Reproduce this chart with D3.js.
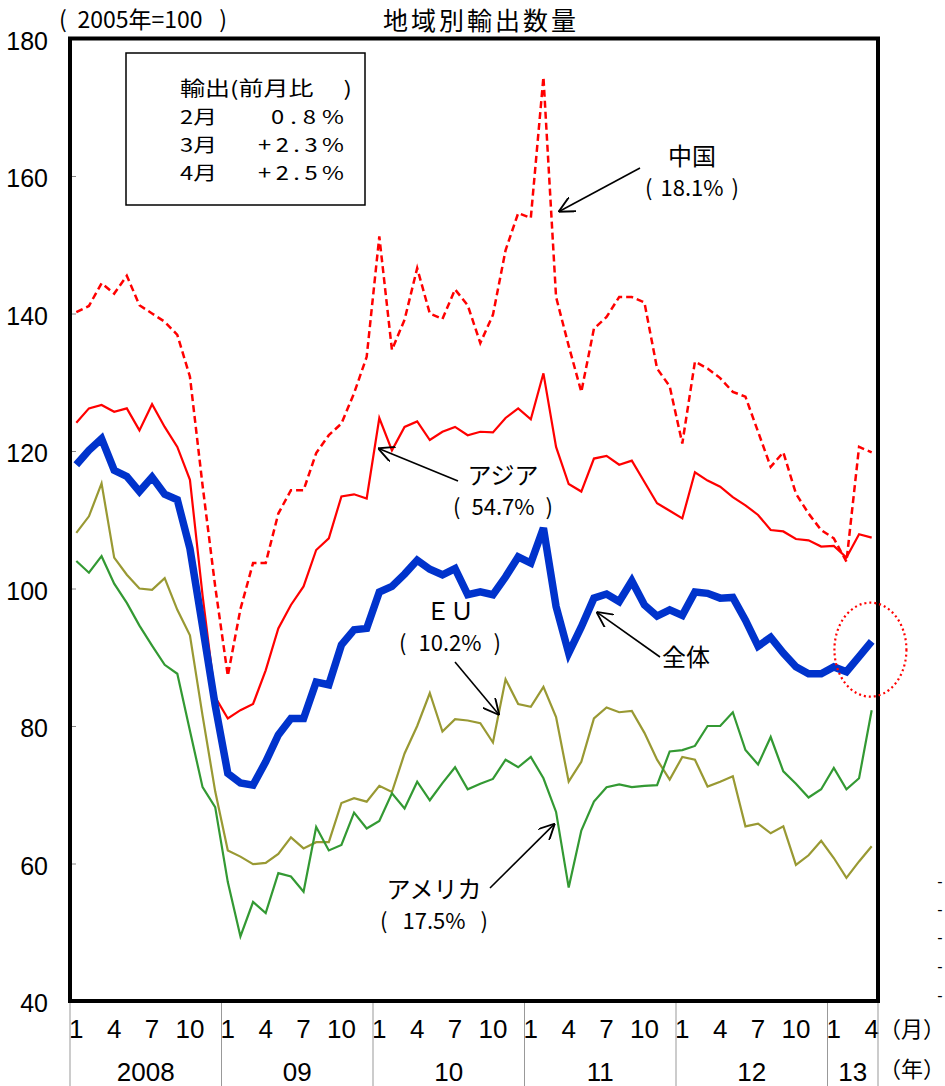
<!DOCTYPE html>
<html>
<head>
<meta charset="utf-8">
<script src="https://cdn.jsdelivr.net/npm/d3@7"></script>
<style>
  body { margin: 0; background: #fff; }
  svg text { font-family: 'Noto Sans CJK JP', sans-serif; fill: #000; }
  .num { font-family: 'Liberation Sans Narrow', 'Liberation Sans', Arial, sans-serif; }
</style>
</head>
<body>
<div id="chart"></div>
<script>
// Jan 2008 .. Apr 2013, index 2005 = 100
const years = ["2008", "09", "10", "11", "12", "13"];
const monthTicks = [1, 4, 7, 10];
const yTicks = [40, 60, 80, 100, 120, 140, 160, 180];

const total = [118.0,120.1,121.8,117.2,116.3,114.1,116.2,113.7,112.9,105.8,94.5,83.0,
  73.1,71.7,71.4,74.8,78.7,81.1,81.1,86.4,86.0,91.8,94.0,94.2,
  99.5,100.3,102.1,104.1,102.8,102.0,102.9,99.1,99.5,99.1,101.7,104.6,
  103.7,108.8,97.4,90.6,94.4,98.6,99.2,98.1,101.1,97.6,96.0,96.9,
  96.1,99.5,99.3,98.6,98.7,95.4,91.6,92.9,90.6,88.6,87.6,87.6,
  88.6,87.9,90.1,92.3];
const asia = [124.1,126.2,126.7,125.7,126.2,123.0,126.8,123.5,120.6,115.8,99.0,84.2,
  81.1,82.3,83.2,88.1,94.2,97.6,100.3,105.6,107.3,113.4,113.7,113.1,
  124.8,120.1,123.5,124.3,121.6,122.8,123.5,122.3,122.8,122.7,124.8,126.2,
  124.6,131.3,120.6,115.2,114.1,118.9,119.3,118.0,118.6,115.5,112.4,111.3,
  110.2,116.9,115.7,114.8,113.3,112.1,110.7,108.5,108.3,107.2,107.0,106.1,
  106.2,104.5,107.9,107.4];
const china = [140.2,141.1,144.4,142.9,145.5,141.2,140.0,138.8,136.9,130.8,115.0,100.3,
  87.3,97.0,103.7,103.7,110.9,114.3,114.3,119.7,122.3,124.0,128.4,133.7,
  151.2,134.7,139.1,146.6,140.0,139.2,143.5,141.2,135.7,139.8,149.2,154.6,
  153.9,174.4,142.4,135.3,128.6,137.8,139.5,142.4,142.4,141.6,132.0,129.4,
  121.1,133.0,132.0,130.6,128.6,127.9,122.8,117.7,119.8,113.8,110.9,108.5,
  107.3,103.9,120.6,119.8];
const eu = [108.1,110.5,115.3,104.5,102.0,100.0,99.8,101.5,96.9,93.2,81.5,70.5,
  61.9,61.0,59.9,60.1,61.4,63.8,62.2,63.1,63.1,68.8,69.5,69.0,
  71.3,70.4,76.0,80.0,84.8,79.2,81.0,80.8,80.4,77.6,86.8,83.2,
  82.8,85.7,81.3,71.9,74.8,81.1,82.7,82.0,82.2,79.0,75.1,72.2,
  75.5,75.1,71.2,71.9,72.7,65.4,65.8,64.4,65.4,59.8,61.2,63.3,
  60.8,57.9,60.3,62.5];
const usa = [104.0,102.3,104.7,100.7,97.9,94.6,91.7,88.9,87.6,79.3,71.1,68.2,
  57.3,49.4,54.4,52.8,58.6,58.1,55.9,65.3,61.9,62.7,67.4,65.1,
  66.2,70.2,68.0,71.9,69.2,71.7,74.0,70.8,71.6,72.3,75.1,74.0,
  75.5,72.4,67.5,56.5,64.8,69.0,71.1,71.5,71.1,71.3,71.4,76.3,
  76.5,77.1,80.0,80.0,82.0,76.5,74.4,78.4,73.4,71.6,69.6,70.8,
  73.9,70.8,72.4,82.3];

const boxMonths = ["2月", "3月", "4月"];
const boxValues = ["0.8%", "+2.3%", "+2.5%"];

const W = 945, H = 1086;
const svg = d3.select("#chart").append("svg")
  .attr("width", W).attr("height", H);

const x = d3.scaleBand().domain(d3.range(total.length)).range([70, 878]);
const cx = i => x(0) + x.step() * (i + 0.5);   // allows fractional months for notes
const y = d3.scaleLinear().domain([40, 180]).range([1001, 38.5]);

// y axis: ticks inside the frame, labels outside
const yAxis = svg.append("g")
  .attr("transform", "translate(70,0)")
  .call(d3.axisLeft(y).tickValues(yTicks).tickSize(-6).tickPadding(22));
yAxis.select(".domain").remove();
yAxis.selectAll("line").attr("stroke", "#888");
yAxis.selectAll("text")
  .attr("class", "num")
  .attr("font-size", 25)
  .attr("dy", "0.42em");

// x axis: month numbers
const xAxis = svg.append("g")
  .attr("transform", "translate(0,1001)")
  .call(d3.axisBottom(x)
    .tickValues(x.domain().filter(i => monthTicks.includes(i % 12 + 1)))
    .tickFormat(i => i % 12 + 1)
    .tickSize(0).tickPadding(19));
xAxis.select(".domain").remove();
xAxis.selectAll("text").attr("class", "num").attr("font-size", 26);

// year separators and labels
const yearStarts = years.map((d, j) => j * 12);
svg.append("g").selectAll("line")
  .data(yearStarts.concat([total.length]))
  .enter().append("line")
  .attr("x1", d => d < total.length ? x(d) : x.range()[1])
  .attr("x2", d => d < total.length ? x(d) : x.range()[1])
  .attr("y1", 1001).attr("y2", H)
  .attr("stroke", "#999").attr("stroke-width", 1);

svg.append("g").selectAll("text")
  .data(years)
  .enter().append("text")
  .attr("class", "num")
  .attr("x", (d, j) => {
    const a = x(j * 12), b = Math.min(x.range()[1], x(j * 12) + x.step() * 12);
    return (a + b) / 2;
  })
  .attr("y", 1081)
  .attr("text-anchor", "middle")
  .attr("font-size", 26)
  .text(d => d);

svg.append("text").attr("x", 912).attr("y", 1037).attr("text-anchor", "middle")
  .attr("font-size", 22).text("（月）");
svg.append("text").attr("x", 912).attr("y", 1077).attr("text-anchor", "middle")
  .attr("font-size", 22).text("（年）");

// stray dashes at the right edge
svg.append("g").selectAll("text")
  .data([882, 910, 938, 967, 996])
  .enter().append("text")
  .attr("class", "num")
  .attr("x", 940).attr("y", d => d + 5)
  .attr("text-anchor", "middle")
  .attr("font-size", 16)
  .text("-");

// series
const line = d3.line().x((d, i) => cx(i)).y(d => y(d));
const series = [
  {data: eu, color: "#999933", width: 2.2},
  {data: usa, color: "#339933", width: 2.2},
  {data: china, color: "#ff0000", width: 2.5, dash: "7,4"},
  {data: asia, color: "#ff0000", width: 2.2},
  {data: total, color: "#0033cc", width: 7.5}
];
svg.append("g").selectAll("path")
  .data(series)
  .enter().append("path")
  .attr("d", d => line(d.data))
  .attr("fill", "none")
  .attr("stroke", d => d.color)
  .attr("stroke-width", d => d.width)
  .attr("stroke-dasharray", d => d.dash || null);

// frame
svg.append("rect")
  .attr("x", 70).attr("y", 38.5)
  .attr("width", 808).attr("height", 1001 - 38.5)
  .attr("fill", "none").attr("stroke", "#000").attr("stroke-width", 4);

// highlight ellipse around the latest month
svg.append("ellipse")
  .attr("cx", cx(62.9)).attr("cy", y(91.1))
  .attr("rx", 36).attr("ry", 47)
  .attr("fill", "none").attr("stroke", "#ff0000")
  .attr("stroke-width", 2.2).attr("stroke-dasharray", "2,3");

// text in parentheses, with the brackets spread out like the original
function bracketed(cxText, yBase, left, right, body, size) {
  svg.append("text").attr("x", left).attr("y", yBase)
    .attr("font-size", size).text("(");
  svg.append("text").attr("x", cxText).attr("y", yBase)
    .attr("text-anchor", "middle").attr("font-size", size).text(body);
  svg.append("text").attr("x", right).attr("y", yBase)
    .attr("text-anchor", "end").attr("font-size", size).text(")");
}

// header
bracketed(140, 28, 59, 227, "2005年=100", 23);
svg.append("text").attr("x", 481).attr("y", 30)
  .attr("text-anchor", "middle").attr("font-size", 25)
  .attr("letter-spacing", 3).text("地域別輸出数量");

// box with month-on-month changes; glyphs stretched sideways like the original
svg.append("rect")
  .attr("x", 126).attr("y", 53).attr("width", 239).attr("height", 152)
  .attr("fill", "#fff").attr("stroke", "#000").attr("stroke-width", 1.5);
const sx = 1.25;
const box = svg.append("g").attr("transform", `translate(180,0) scale(${sx},1)`);
box.append("text").attr("x", 0).attr("y", 96)
  .attr("font-size", 20).text("輸出(前月比");
box.append("text").attr("x", (352 - 180) / sx).attr("y", 96)
  .attr("text-anchor", "end").attr("font-size", 20).text(")");
boxMonths.forEach((m, k) => {
  box.append("text").attr("x", 0).attr("y", 124 + k * 28)
    .attr("font-size", 19).text(m);
  box.append("text").attr("x", (344 - 180) / sx).attr("y", 124 + k * 28)
    .attr("text-anchor", "end").attr("font-size", 19)
    .attr("textLength", (k === 0 ? 73 : 86) / sx).attr("lengthAdjust", "spacing")
    .text(boxValues[k]);
});

// arrows and labels
svg.append("defs").append("marker")
  .attr("id", "head")
  .attr("viewBox", "0 -6 12 12")
  .attr("refX", 12).attr("refY", 0)
  .attr("markerWidth", 16).attr("markerHeight", 16)
  .attr("markerUnits", "userSpaceOnUse")
  .attr("orient", "auto")
  .append("path")
  .attr("d", "M0,-6L12,0L0,6")
  .attr("fill", "none").attr("stroke", "#000").attr("stroke-width", 1.4);

const notes = [
  {name: "中国", share: "18.1%", lx: 692, ly: 165, half: 47, from: [640, 168], to: [cx(38.2), y(154.8)]},
  {name: "アジア", share: "54.7%", lx: 503, ly: 484, half: 50, from: [458, 481], to: [cx(23.9), y(120.4)]},
  {name: "ＥＵ", share: "10.2%", lx: 450, ly: 620, half: 51, from: [455, 662], to: [cx(33.5), y(81.6)]},
  {name: "全体", share: null, lx: 686, ly: 666, half: 0, from: [660, 657], to: [cx(41.2), y(96.6)]},
  {name: "アメリカ", share: "17.5%", lx: 434, ly: 898, half: 54, from: [490, 888], to: [cx(37.9), y(65.8)]}
];
notes.forEach(n => {
  svg.append("line")
    .attr("x1", n.from[0]).attr("y1", n.from[1])
    .attr("x2", n.to[0]).attr("y2", n.to[1])
    .attr("stroke", "#000").attr("stroke-width", 1.6)
    .attr("marker-end", "url(#head)");
  svg.append("text").attr("x", n.lx).attr("y", n.ly)
    .attr("text-anchor", "middle").attr("font-size", 24).text(n.name);
  if (n.share) bracketed(n.lx, n.ly + 31, n.lx - n.half, n.lx + n.half, n.share, 22);
});
</script>
</body>
</html>
